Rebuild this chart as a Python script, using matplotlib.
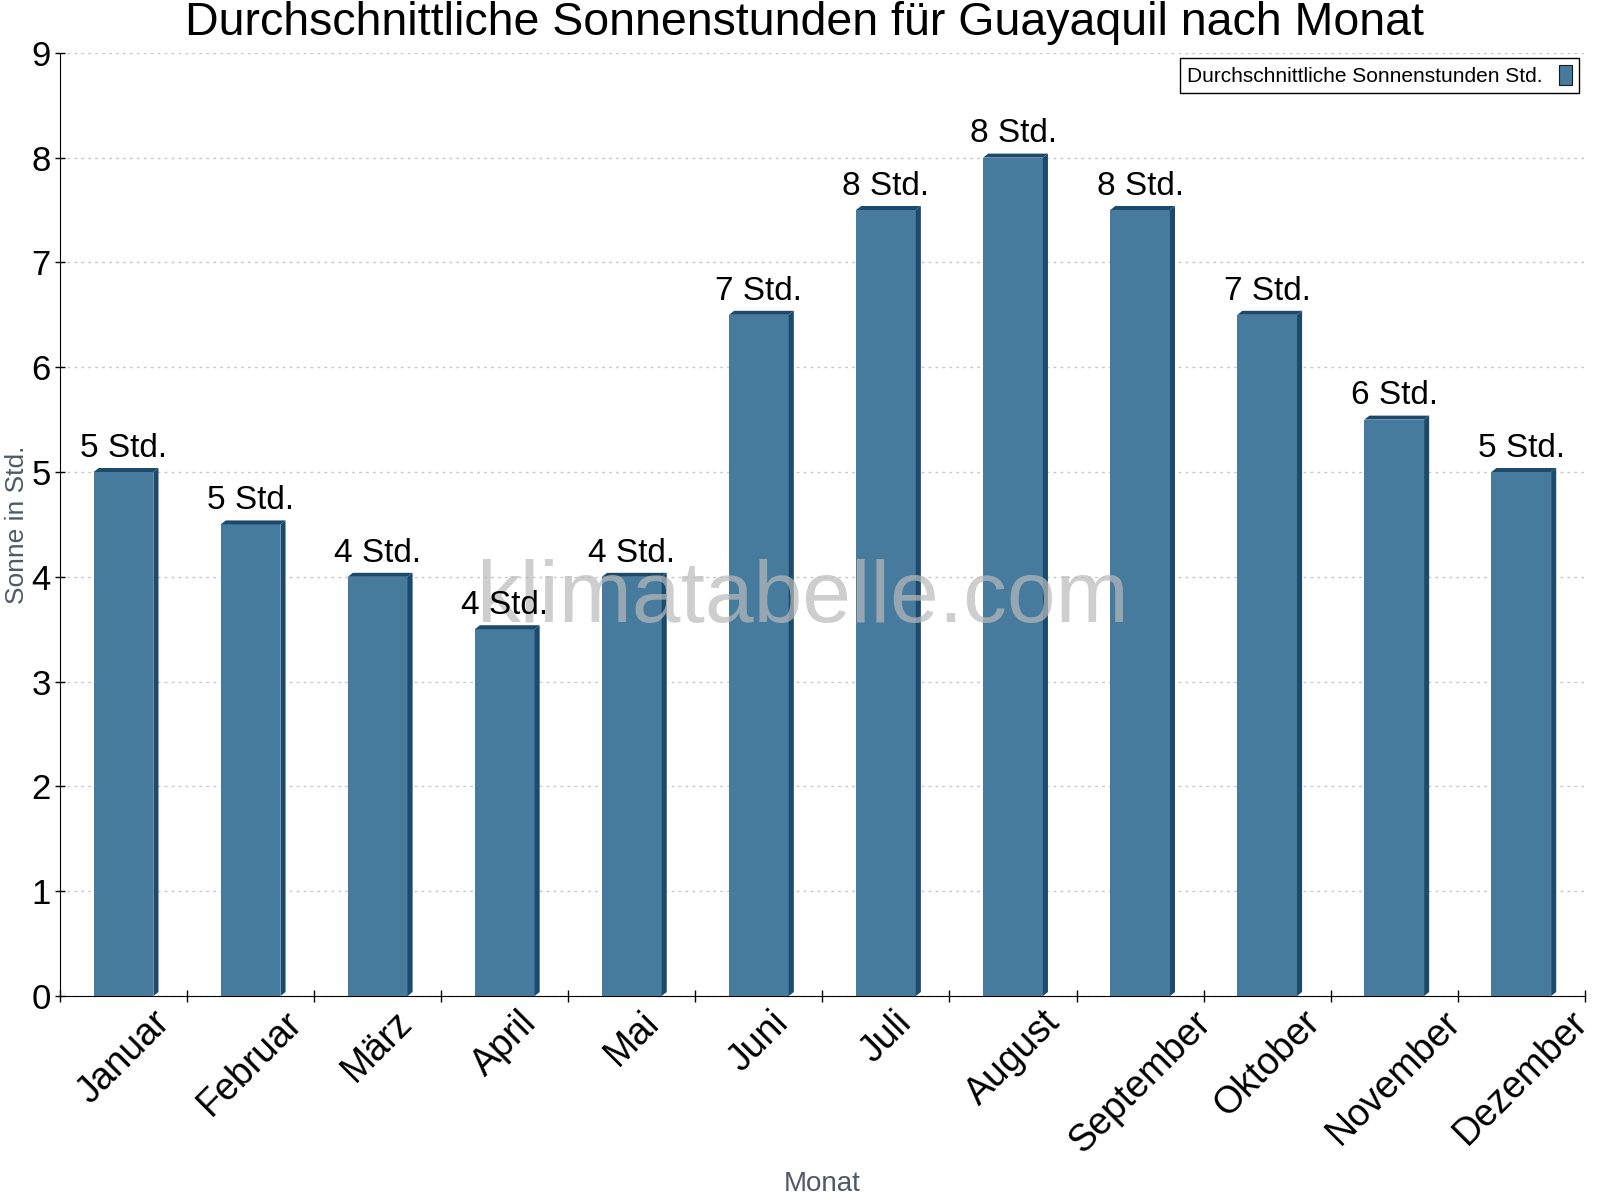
import matplotlib.pyplot as plt
from matplotlib.patches import Polygon, Patch

plt.rcParams['font.family'] = ['Liberation Sans', 'DejaVu Sans']

# Data
months = ['Januar', 'Februar', 'März', 'April', 'Mai', 'Juni', 'Juli',
          'August', 'September', 'Oktober', 'November', 'Dezember']
sun_hours = [5, 4.5, 4, 3.5, 4, 6.5, 7.5, 8, 7.5, 6.5, 5.5, 5]
value_labels = ['5 Std.', '5 Std.', '4 Std.', '4 Std.', '4 Std.', '7 Std.',
                '8 Std.', '8 Std.', '8 Std.', '7 Std.', '6 Std.', '5 Std.']

front_color = '#477b9d'
dark_color = '#1b4a6c'

fig = plt.figure(figsize=(16, 12), dpi=100)
ax = fig.add_axes([0.0375, 0.17, 0.953, 0.786])

x = list(range(len(months)))
bar_w = 0.47
dx, dy = 0.04, 0.038  # fake 3d depth in data units

ax.bar(x, sun_hours, width=bar_w, color=front_color, zorder=3)
for xi, h in zip(x, sun_hours):
    x0, x1 = xi - bar_w / 2, xi + bar_w / 2
    side = Polygon([(x1, 0), (x1 + dx, dy), (x1 + dx, h + dy), (x1, h)],
                   closed=True, facecolor=dark_color, edgecolor='none', zorder=3)
    top = Polygon([(x0, h), (x0 + dx, h + dy), (x1 + dx, h + dy), (x1, h)],
                  closed=True, facecolor=dark_color, edgecolor='none', zorder=3)
    ax.add_patch(side)
    ax.add_patch(top)

for xi, h, lab in zip(x, sun_hours, value_labels):
    ax.annotate(lab, (xi, h + dy), xytext=(0, 3), textcoords='offset points',
                ha='center', va='bottom', fontsize=24, zorder=6)

ax.set_xlim(-0.5, 11.5)
ax.set_ylim(0, 9)
ax.set_yticks(range(10))
ax.tick_params(axis='y', labelsize=25, direction='inout', length=7, width=1, pad=3)

# month labels centred on bars, ticks on the category borders
ax.set_xticks(x)
ax.set_xticklabels(months, rotation=45, ha='center', fontsize=27)
ax.tick_params(axis='x', which='major', length=0, pad=6)
ax.set_xticks([i - 0.5 for i in range(len(months) + 1)], minor=True)
ax.tick_params(axis='x', which='minor', direction='inout', length=9, width=1)

ax.yaxis.grid(True, linestyle=(0, (2, 3)), color='#c8c8c8', linewidth=1, zorder=0)
ax.set_axisbelow(True)
for s in ['top', 'right']:
    ax.spines[s].set_visible(False)

ax.set_ylabel('Sonne in Std.', fontsize=19, color='#4f5a66', labelpad=2)
ax.set_xlabel('Monat', fontsize=20, color='#4f5a66', labelpad=8)

fig.text(0.503, 1 - 23 / 1200, 'Durchschnittliche Sonnenstunden für Guayaquil nach Monat',
         ha='center', va='center', fontsize=33.5)

ax.text(0.487, 0.42, 'klimatabelle.com', transform=ax.transAxes, ha='center',
        va='center', fontsize=63, color='#bababa', alpha=0.7, zorder=5)

handle = Patch(facecolor=front_color, edgecolor='#1a1a1a', linewidth=0.8)
leg = ax.legend([handle], ['Durchschnittliche Sonnenstunden Std.'], loc='upper right',
                bbox_to_anchor=(1.003, 1.006), fontsize=15, markerfirst=False,
                fancybox=False, framealpha=1, edgecolor='black',
                handlelength=0.6, handleheight=1.1, borderpad=0.35, handletextpad=0.8)
leg.get_frame().set_linewidth(1)

fig.savefig('out.png', dpi=100)
